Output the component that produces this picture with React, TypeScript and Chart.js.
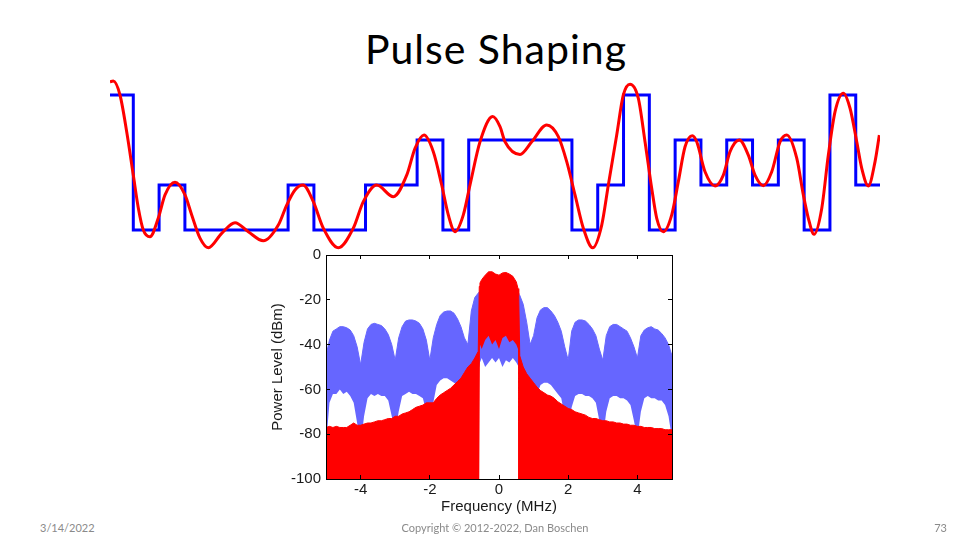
import React, { useEffect, useRef } from "react";
import { Chart, registerables } from "chart.js";

Chart.register(...registerables);

// ---------- Top chart: 4-PAM symbols and pulse-shaped waveform ----------
const symbols = [3, -3, -1, -3, -3, -3, -3, -1, -3, -3, -1, -1, 1, -3, 1, 1, 1, 1, -3, -1, 3, -3, 1, -1, 1, -1, 1, -3, 3, -1];

const shapedT = [
  0.097, 0.225, 0.484, 0.744, 1.0, 1.194, 1.388, 1.647, 1.969, 2.229,
  2.616, 3.004, 3.264, 3.585, 3.907, 4.426, 4.942, 5.457, 6.039, 6.62,
  6.946, 7.267, 7.578, 7.977, 8.364, 8.946, 9.527, 9.915, 10.434, 11.078,
  11.597, 11.919, 12.267, 12.628, 12.953, 13.209, 13.469, 13.791, 14.05, 14.438,
  14.93, 15.213, 15.407, 15.988, 16.442, 17.023, 17.473, 17.798, 18.12, 18.442,
  18.806, 19.155, 19.411, 19.736, 19.992, 20.252, 20.574, 20.833, 21.093, 21.287,
  21.543, 21.868, 22.124, 22.384, 22.667, 22.837, 23.159, 23.547, 23.868, 24.128,
  24.488, 24.837, 25.097, 25.419, 25.744, 26.066, 26.326, 26.713, 26.969, 27.163,
  27.384, 27.682, 27.938, 28.198, 28.519, 28.779, 29.039, 29.233, 29.488, 29.748,
  29.915,
];
const shapedV = [
  3.59, 3.62, 3.0, 1.37, -0.56, -2.02, -3.0, -3.3, -2.47, -1.44,
  -0.88, -1.44, -2.33, -3.36, -3.79, -3.15, -2.68, -3.08, -3.48, -2.78,
  -1.89, -1.22, -1.0, -1.74, -2.92, -3.79, -2.92, -1.74, -1.0, -1.52,
  -0.56, 0.63, 1.22, 0.48, -1.0, -2.33, -3.08, -2.33, -1.0, 0.92,
  2.04, 1.59, 0.92, 0.36, 0.92, 1.67, 1.15, 0.04, -1.44, -2.92,
  -3.79, -2.78, -1.0, 1.22, 3.0, 3.48, 2.85, 0.92, -1.15, -2.48,
  -3.08, -2.33, -0.85, 0.7, 1.19, 0.92, -0.41, -1.04, -0.56, 0.48,
  1.0, 0.33, -0.56, -1.03, -0.41, 0.92, 1.22, 0.19, -1.44, -2.48,
  -3.19, -2.04, 0.33, 2.26, 3.08, 2.41, 0.92, -0.26, -1.04, 0.04,
  1.22,
];

// ---------- Bottom chart: spectrum (MHz, dBm) ----------
const freqTicks = [-4, -2, 0, 2, 4];
const powerTicks = [-100, -80, -60, -40, -20, 0];

const freqMHz = [
  -5.0, -4.9, -4.8, -4.7, -4.6, -4.5, -4.4, -4.3, -4.2, -4.1,
  -4.0, -3.9, -3.8, -3.7, -3.6, -3.5, -3.4, -3.3, -3.2, -3.1,
  -3.0, -2.9, -2.8, -2.7, -2.6, -2.5, -2.4, -2.3, -2.2, -2.1,
  -2.0, -1.9, -1.8, -1.7, -1.6, -1.5, -1.4, -1.3, -1.2, -1.1,
  -1.0, -0.9, -0.8, -0.7, -0.6,
  -0.57, -0.55,
  -0.5, -0.4, -0.3, -0.2, -0.1, 0.0, 0.1, 0.2, 0.3, 0.4, 0.5,
  0.55, 0.57,
  0.6, 0.7, 0.8, 0.9, 1.0, 1.1, 1.2, 1.3, 1.4, 1.5,
  1.6, 1.7, 1.8, 1.9, 2.0, 2.1, 2.2, 2.3, 2.4, 2.5,
  2.6, 2.7, 2.8, 2.9, 3.0, 3.1, 3.2, 3.3, 3.4, 3.5,
  3.6, 3.7, 3.8, 3.9, 4.0, 4.1, 4.2, 4.3, 4.4, 4.5,
  4.6, 4.7, 4.8, 4.9, 5.0,
];
// unshaped (rectangular) spectrum: top and bottom of the dense band
const rectHi = [
  -45, -38, -34, -33, -32, -32, -32.5, -33.5, -36, -41,
  -49, -39, -33, -31, -30.5, -31, -31.5, -33, -35.5, -40,
  -47, -37, -32, -29.5, -29, -29, -29.5, -30.5, -33, -38,
  -47, -37, -31, -27, -25.5, -25, -25, -26, -28.5, -32,
  -37, -40, -25, -19, -17,
  -16.5, -16,
  -16, -16, -16, -16, -16, -16, -16, -16, -16, -16, -16,
  -17, -17.5,
  -18, -22, -30, -40, -36, -28, -24.5, -23.5, -23.5, -25,
  -27, -30, -34, -41, -47, -34, -30, -29, -29, -29.5,
  -31, -33, -36, -42, -47, -36, -32, -31, -31, -32,
  -33, -34, -37, -41, -46, -36, -33.5, -32.5, -32, -33,
  -33.5, -35, -37, -40, -45,
];
const rectLo = [
  -85, -66, -62, -62, -60, -62, -61, -63, -66, -75,
  -85, -72, -64, -62, -63, -62, -63, -63, -65, -72,
  -80, -70, -63, -62, -61, -62, -62, -63, -64, -70,
  -80, -66, -58, -56, -55, -55, -56, -57, -58, -62,
  -70, -62, -55, -52, -50,
  -50, -48,
  -46, -50, -48, -46, -48, -46, -50, -47, -48, -46, -48,
  -50, -50,
  -52, -55, -58, -66, -72, -62, -58, -57, -57, -58,
  -60, -62, -64, -72, -80, -68, -63, -62, -62, -63,
  -63, -64, -66, -74, -82, -70, -64, -63, -63, -64,
  -64, -65, -67, -74, -82, -70, -64, -63, -64, -64,
  -65, -65, -67, -72, -82,
];
// pulse-shaped spectrum: top and bottom of the red band
const shapedHi = [
  -77, -76.5, -77, -76.5, -77, -77, -77, -76, -75, -76,
  -76, -75.5, -75, -75, -74.5, -74, -74, -73.5, -73, -73,
  -72, -72, -71, -70.5, -70, -69, -68, -67.5, -67, -66,
  -66, -66, -64, -62.5, -61.5, -60.5, -59.5, -58, -56.5, -55,
  -52.5, -50, -48.5, -46, -43,
  -14, -12.5,
  -11, -9, -7.5, -7.5, -8.5, -9, -8, -7.8, -8.5, -9.5, -12,
  -15, -18,
  -45, -50, -53, -55, -57, -59, -60.5, -61.5, -62.5, -63,
  -64, -65.5, -66.5, -67.5, -68.5, -69, -70, -70.5, -71, -71.5,
  -72.5, -73, -73, -73.5, -74, -74, -74.5, -74.5, -75, -75,
  -75.5, -75.5, -76, -76, -76.5, -76.5, -77, -77, -77, -77.5,
  -77.5, -77.5, -78, -78, -78,
];
const shapedLo = [
  -100, -100, -100, -100, -100, -100, -100, -100, -100, -100,
  -100, -100, -100, -100, -100, -100, -100, -100, -100, -100,
  -100, -100, -100, -100, -100, -100, -100, -100, -100, -100,
  -100, -100, -100, -100, -100, -100, -100, -100, -100, -100,
  -100, -100, -100, -100, -100,
  -100, -40,
  -42, -38, -36, -40, -38, -42, -37, -36, -39, -38, -40,
  -42, -100,
  -100, -100, -100, -100, -100, -100, -100, -100, -100, -100,
  -100, -100, -100, -100, -100, -100, -100, -100, -100, -100,
  -100, -100, -100, -100, -100, -100, -100, -100, -100, -100,
  -100, -100, -100, -100, -100, -100, -100, -100, -100, -100,
  -100, -100, -100, -100, -100,
];

const AXIS_FONT = { family: "'Liberation Sans', Arial, sans-serif", size: 15 };
const AXIS_COLOR = "#1a1a1a";

function xy(xs: number[], ys: number[]) {
  return xs.map((x, i) => ({ x, y: ys[i] }));
}

export default function App() {
  const topRef = useRef<HTMLCanvasElement>(null);
  const specRef = useRef<HTMLCanvasElement>(null);

  useEffect(() => {
    const symbolPts = symbols.map((s, i) => ({ x: i, y: s }));
    symbolPts.push({ x: symbols.length, y: symbols[symbols.length - 1] });

    const top = new Chart(topRef.current as HTMLCanvasElement, {
      type: "line",
      data: {
        datasets: [
          {
            label: "shaped",
            data: xy(shapedT, shapedV),
            borderColor: "#ff0000",
            borderWidth: 3,
            pointRadius: 0,
            cubicInterpolationMode: "monotone",
            fill: false,
          },
          {
            label: "symbols",
            data: symbolPts,
            borderColor: "#0000ff",
            borderWidth: 3,
            pointRadius: 0,
            stepped: "before",
            fill: false,
          },
        ],
      },
      options: {
        animation: false,
        responsive: false,
        maintainAspectRatio: false,
        layout: { padding: 0 },
        plugins: { legend: { display: false }, tooltip: { enabled: false } },
        scales: {
          x: { type: "linear", display: false, min: 0.097, max: 29.94 },
          y: { type: "linear", display: false, min: -3.978, max: 4.022 },
        },
      },
    } as any);

    const gridOpts = { drawOnChartArea: false, tickLength: -4, color: "#000", lineWidth: 1, z: 1 };
    const borderOpts = { color: "#000", width: 1, z: 1 };
    const setFreqTicks = (s: any) => { s.ticks = freqTicks.map((v) => ({ value: v })); };
    const setPowerTicks = (s: any) => { s.ticks = powerTicks.map((v) => ({ value: v })); };
    const noPadH = (s: any, h: number) => { s.height = h; s.paddingLeft = 0; s.paddingRight = 0; };
    const noPadV = (s: any, w: number) => { s.width = w; s.paddingTop = 0; s.paddingBottom = 0; };

    const spec = new Chart(specRef.current as HTMLCanvasElement, {
      type: "line",
      data: {
        datasets: [
          {
            label: "shapedHi",
            data: xy(freqMHz, shapedHi),
            borderColor: "#ff0000",
            backgroundColor: "#ff0000",
            borderWidth: 1,
            pointRadius: 0,
            fill: "+1",
          },
          {
            label: "shapedLo",
            data: xy(freqMHz, shapedLo),
            borderColor: "#ff0000",
            borderWidth: 0,
            pointRadius: 0,
            fill: false,
          },
          {
            label: "rectHi",
            data: xy(freqMHz, rectHi),
            borderColor: "#6666ff",
            backgroundColor: "#6666ff",
            borderWidth: 1,
            pointRadius: 0,
            fill: "+1",
          },
          {
            label: "rectLo",
            data: xy(freqMHz, rectLo),
            borderColor: "#6666ff",
            borderWidth: 0,
            pointRadius: 0,
            fill: false,
          },
        ],
      },
      options: {
        animation: false,
        responsive: false,
        maintainAspectRatio: false,
        layout: { padding: 0 },
        plugins: { legend: { display: false }, tooltip: { enabled: false } },
        scales: {
          x: {
            type: "linear",
            position: "bottom",
            min: -5,
            max: 5,
            afterBuildTicks: setFreqTicks,
            ticks: { padding: 6, font: AXIS_FONT, color: AXIS_COLOR, maxRotation: 0 },
            grid: gridOpts,
            border: borderOpts,
            title: { display: true, text: "Frequency (MHz)", font: AXIS_FONT, color: AXIS_COLOR, padding: { top: 0, bottom: 9 } },
            afterFit: (s: any) => noPadH(s, 46),
          },
          x2: {
            type: "linear",
            position: "top",
            min: -5,
            max: 5,
            afterBuildTicks: setFreqTicks,
            ticks: { display: false },
            grid: gridOpts,
            border: borderOpts,
            afterFit: (s: any) => noPadH(s, 10),
          },
          y: {
            type: "linear",
            position: "left",
            min: -100,
            max: 0,
            afterBuildTicks: setPowerTicks,
            ticks: { padding: 9, font: AXIS_FONT, color: AXIS_COLOR },
            grid: gridOpts,
            border: borderOpts,
            title: { display: true, text: "Power Level (dBm)", font: AXIS_FONT, color: AXIS_COLOR, padding: { top: 9, bottom: 0 } },
            afterFit: (s: any) => noPadV(s, 66),
          },
          y2: {
            type: "linear",
            position: "right",
            min: -100,
            max: 0,
            afterBuildTicks: setPowerTicks,
            ticks: { display: false },
            grid: gridOpts,
            border: borderOpts,
            afterFit: (s: any) => noPadV(s, 8),
          },
        },
      },
    } as any);

    return () => {
      top.destroy();
      spec.destroy();
    };
  }, []);

  const footer: React.CSSProperties = {
    position: "absolute",
    top: 521,
    fontFamily: "Lato, 'Open Sans', sans-serif",
    fontSize: 11,
    lineHeight: "14px",
    color: "#8a8a8a",
    whiteSpace: "nowrap",
  };

  return (
    <div style={{ position: "absolute", left: 0, top: 0, width: 961, height: 546, background: "#fff", overflow: "hidden" }}>
      <div
        style={{
          position: "absolute",
          left: 296,
          top: 28,
          width: 400,
          textAlign: "center",
          fontFamily: "Lato, 'Open Sans', sans-serif",
          fontSize: 41,
          letterSpacing: 1,
          lineHeight: "41px",
          color: "#000",
          whiteSpace: "nowrap",
        }}
      >
        Pulse Shaping
      </div>
      <canvas
        ref={topRef}
        width={770}
        height={180}
        style={{ position: "absolute", left: 110, top: 72, width: 770, height: 180 }}
      />
      <canvas
        ref={specRef}
        width={420}
        height={280}
        style={{ position: "absolute", left: 260, top: 245, width: 420, height: 280 }}
      />
      <div style={{ ...footer, left: 40 }}>3/14/2022</div>
      <div style={{ ...footer, left: 295, width: 400, textAlign: "center" }}>Copyright © 2012-2022, Dan Boschen</div>
      <div style={{ ...footer, left: 900, width: 47, textAlign: "right" }}>73</div>
    </div>
  );
}
